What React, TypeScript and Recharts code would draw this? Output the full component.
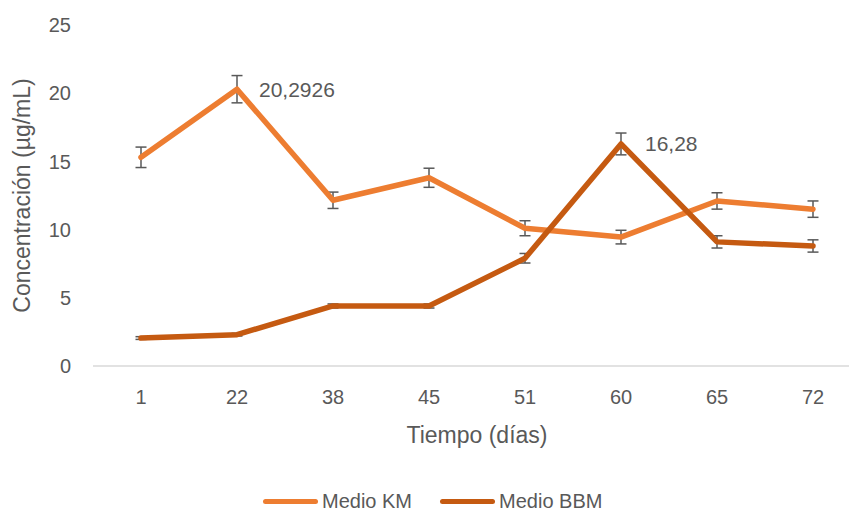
import { LineChart, Line, XAxis, YAxis, ErrorBar, LabelList } from "recharts";

const days = ["1", "22", "38", "45", "51", "60", "65", "72"];
const kmValues = [15.3, 20.2926, 12.15, 13.8, 10.1, 9.45, 12.1, 11.5];
const kmErrors = [0.75, 1.0, 0.6, 0.7, 0.55, 0.5, 0.6, 0.6];
const kmLabels = ["", "20,2926", "", "", "", "", "", ""];
const bbmValues = [2.05, 2.3, 4.4, 4.4, 7.9, 16.28, 9.1, 8.8];
const bbmErrors = [0.1, 0.1, 0.15, 0.15, 0.35, 0.8, 0.45, 0.45];
const bbmLabels = ["", "", "", "", "", "16,28", "", ""];
const yTicks = [0, 5, 10, 15, 20, 25];

const series = [
  { key: "km", name: "Medio KM", color: "#ED7D31" },
  { key: "bbm", name: "Medio BBM", color: "#C55A11" },
];

const data = days.map((day, i) => ({
  day,
  km: kmValues[i],
  kmErr: kmErrors[i],
  kmLabel: kmLabels[i],
  bbm: bbmValues[i],
  bbmErr: bbmErrors[i],
  bbmLabel: bbmLabels[i],
}));

const FONT = "'Liberation Sans', Arial, sans-serif";
const TEXT = "#595959";

export default function App() {
  return (
    <div
      style={{
        position: "absolute",
        left: 0,
        top: 0,
        width: 849,
        height: 514,
        overflow: "hidden",
        background: "#ffffff",
        fontFamily: FONT,
      }}
    >
      <LineChart
        width={870}
        height={514}
        data={data}
        margin={{ top: 25, right: 9, left: 0, bottom: 68 }}
      >
        <XAxis
          dataKey="day"
          height={80}
          padding={{ left: 48, right: 48 }}
          axisLine={{ stroke: "#d9d9d9", strokeWidth: 1.5 }}
          tickLine={false}
          tickMargin={18}
          tick={{ fill: TEXT, fontSize: 20, fontFamily: FONT }}
          label={{
            value: "Tiempo (días)",
            position: "insideTop",
            offset: 61,
            fill: TEXT,
            fontSize: 23,
            fontFamily: FONT,
          }}
        />
        <YAxis
          width={93}
          domain={[0, 25]}
          ticks={yTicks}
          axisLine={false}
          tickLine={false}
          tickMargin={16}
          tick={{ fill: TEXT, fontSize: 20, fontFamily: FONT }}
          label={{
            value: "Concentración (µg/mL)",
            angle: -90,
            position: "insideLeft",
            offset: 22,
            fill: TEXT,
            fontSize: 23,
            fontFamily: FONT,
            style: { textAnchor: "middle" },
          }}
        />
        <Line
          dataKey="km"
          name="Medio KM"
          stroke="#ED7D31"
          strokeWidth={5.5}
          strokeLinecap="round"
          strokeLinejoin="round"
          dot={false}
          activeDot={false}
          isAnimationActive={false}
        >
          <ErrorBar dataKey="kmErr" direction="y" width={5.5} stroke={TEXT} strokeWidth={1.5} />
          <LabelList dataKey="kmLabel" position="right" offset={22} fill={TEXT} fontSize={21} fontFamily={FONT} />
        </Line>
        <Line
          dataKey="bbm"
          name="Medio BBM"
          stroke="#C55A11"
          strokeWidth={5.5}
          strokeLinecap="round"
          strokeLinejoin="round"
          dot={false}
          activeDot={false}
          isAnimationActive={false}
        >
          <ErrorBar dataKey="bbmErr" direction="y" width={5.5} stroke={TEXT} strokeWidth={1.5} />
          <LabelList dataKey="bbmLabel" position="right" offset={24} fill={TEXT} fontSize={21} fontFamily={FONT} />
        </Line>
      </LineChart>

      {/* legend */}
      <div
        style={{
          position: "absolute",
          left: 263,
          top: 489,
          display: "flex",
          alignItems: "center",
          gap: 28,
          fontSize: 20,
          color: TEXT,
          lineHeight: "24px",
        }}
      >
        {series.map((s) => (
          <div key={s.key} style={{ display: "flex", alignItems: "center" }}>
            <div
              style={{
                width: 55,
                height: 5,
                borderRadius: 3,
                background: s.color,
                marginRight: 4,
              }}
            />
            <span>{s.name}</span>
          </div>
        ))}
      </div>
    </div>
  );
}
